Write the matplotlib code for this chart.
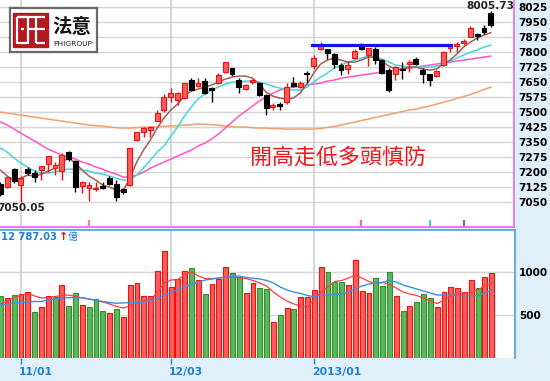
import matplotlib
matplotlib.use("Agg")
import matplotlib.pyplot as plt
from matplotlib.patches import Rectangle
import numpy as np

# ---- data ----
opens = [7140, 7125, 7215, 7135, 7218, 7198, 7212, 7240, 7222, 7205,
         7300, 7257, 7132, 7122, 7115, 7130, 7172, 7140, 7118, 7135,
         7360, 7402, 7410, 7458, 7510, 7578, 7563, 7570, 7660, 7633,
         7657, 7620, 7645, 7702, 7720, 7660, 7618, 7652, 7645, 7585,
         7527, 7540, 7552, 7645, 7628, 7697, 7730, 7818, 7815, 7793,
         7738, 7718, 7773, 7835, 7785, 7818, 7760, 7712, 7693, 7718,
         7743, 7768, 7710, 7690, 7680, 7735, 7823, 7830, 7848, 7878,
         7893, 7922, 7998]
highs = [7150, 7178, 7220, 7180, 7225, 7210, 7232, 7282, 7250, 7298,
         7305, 7262, 7155, 7152, 7150, 7150, 7180, 7160, 7122, 7322,
         7402, 7425, 7430, 7512, 7593, 7623, 7600, 7648, 7672, 7670,
         7670, 7626, 7695, 7753, 7722, 7670, 7640, 7668, 7652, 7590,
         7547, 7552, 7647, 7677, 7655, 7705, 7785, 7852, 7818, 7796,
         7748, 7755, 7818, 7845, 7822, 7825, 7765, 7720, 7730, 7752,
         7760, 7775, 7720, 7693, 7710, 7805, 7838, 7850, 7865, 7930,
         7895, 7935, 8005.73]
lows = [7080, 7122, 7145, 7050.05, 7185, 7152, 7160, 7200, 7185, 7160,
        7258, 7100, 7097, 7058, 7105, 7118, 7135, 7056, 7092, 7130,
        7358, 7377, 7375, 7455, 7502, 7552, 7535, 7565, 7610, 7627,
        7590, 7551, 7643, 7695, 7680, 7597, 7612, 7640, 7580, 7488,
        7513, 7510, 7543, 7625, 7620, 7645, 7718, 7810, 7768, 7720,
        7685, 7693, 7765, 7810, 7730, 7740, 7690, 7601, 7660, 7668,
        7702, 7735, 7645, 7630, 7678, 7733, 7800, 7800, 7835, 7875,
        7860, 7893, 7925]
closes = [7090, 7175, 7155, 7170, 7195, 7175, 7230, 7280, 7236, 7285,
          7265, 7127, 7152, 7135, 7123, 7122, 7143, 7077, 7103, 7320,
          7400, 7422, 7428, 7498, 7577, 7597, 7598, 7645, 7613, 7645,
          7597, 7612, 7688, 7752, 7692, 7627, 7637, 7660, 7587, 7520,
          7535, 7530, 7627, 7630, 7648, 7690, 7773, 7835, 7795, 7740,
          7713, 7738, 7808, 7818, 7820, 7760, 7697, 7612, 7727, 7713,
          7752, 7740, 7690, 7663, 7706, 7801, 7835, 7843, 7855, 7920,
          7880, 7903, 7936]

ma5 = [7211, 7181, 7156, 7171, 7186, 7181, 7191, 7206, 7221, 7251,
       7271, 7246, 7211, 7181, 7161, 7136, 7126, 7111, 7106, 7171,
       7251, 7311, 7361, 7421, 7471, 7511, 7541, 7581, 7606, 7616,
       7626, 7636, 7651, 7666, 7676, 7681, 7681, 7671, 7641, 7601,
       7581, 7571, 7566, 7571, 7596, 7641, 7696, 7741, 7761, 7771,
       7761, 7751, 7751, 7761, 7776, 7776, 7756, 7731, 7716, 7716,
       7726, 7726, 7716, 7711, 7716, 7741, 7761, 7791, 7826, 7851,
       7871, 7886, 7898]
ma10 = [7321, 7301, 7271, 7246, 7226, 7206, 7196, 7196, 7201, 7211,
        7216, 7216, 7211, 7206, 7196, 7191, 7181, 7171, 7161, 7161,
        7186, 7221, 7261, 7301, 7331, 7381, 7426, 7481, 7526, 7566,
        7591, 7611, 7626, 7641, 7651, 7651, 7656, 7656, 7651, 7641,
        7631, 7621, 7616, 7611, 7611, 7626, 7651, 7676, 7696, 7721,
        7736, 7751, 7761, 7771, 7781, 7776, 7766, 7751, 7736, 7731,
        7726, 7726, 7726, 7726, 7731, 7741, 7756, 7771, 7786, 7801,
        7811, 7826, 7836]
ma20 = [7451, 7436, 7416, 7396, 7376, 7356, 7336, 7316, 7301, 7286,
        7276, 7266, 7251, 7241, 7226, 7216, 7201, 7191, 7176, 7176,
        7186, 7201, 7221, 7236, 7251, 7266, 7281, 7296, 7311, 7331,
        7346, 7366, 7391, 7421, 7451, 7481, 7506, 7531, 7556, 7576,
        7596, 7611, 7621, 7626, 7631, 7636, 7641, 7646, 7656, 7661,
        7671, 7676, 7681, 7686, 7691, 7696, 7701, 7706, 7711, 7716,
        7721, 7726, 7731, 7736, 7741, 7746, 7751, 7756, 7761, 7766,
        7771, 7776, 7781]
ma60 = [7501, 7496, 7491, 7486, 7481, 7476, 7471, 7466, 7461, 7456,
        7451, 7446, 7441, 7436, 7433, 7431, 7426, 7423, 7421, 7421,
        7423, 7426, 7426, 7428, 7431, 7431, 7433, 7436, 7438, 7441,
        7441, 7438, 7436, 7431, 7428, 7426, 7426, 7423, 7421, 7421,
        7418, 7418, 7416, 7416, 7416, 7416, 7416, 7419, 7424, 7429,
        7436, 7444, 7451, 7459, 7466, 7474, 7481, 7489, 7496, 7504,
        7511, 7516, 7524, 7531, 7541, 7549, 7559, 7569, 7579, 7589,
        7601, 7614, 7626]

volume = [723, 696, 734, 746, 773, 532, 594, 726, 707, 851,
          605, 754, 617, 590, 684, 547, 520, 567, 473, 851,
          871, 726, 723, 1015, 1253, 831, 918, 1019, 1054, 910,
          746, 863, 918, 1066, 988, 949, 754, 871, 820, 801,
          415, 500, 578, 570, 714, 714, 793, 1062, 1004, 883,
          883, 851, 1144, 781, 754, 930, 843, 1004, 726, 547,
          605, 649, 750, 696, 594, 766, 824, 816, 766, 910,
          813, 949, 988]
vol_up = [0, 1, 0, 1, 1, 0, 1, 1, 0, 1,
          0, 0, 1, 0, 0, 0, 1, 0, 1, 1,
          1, 1, 1, 1, 1, 1, 1, 1, 0, 1,
          0, 1, 1, 1, 0, 0, 1, 1, 0, 0,
          1, 0, 1, 0, 1, 1, 1, 1, 0, 0,
          0, 1, 1, 1, 1, 0, 0, 0, 1, 0,
          1, 0, 0, 0, 1, 1, 1, 1, 1, 1,
          0, 1, 1]
vol_ma5 = [629, 664, 705, 734, 752, 723, 699, 705, 717, 728,
           734, 717, 699, 687, 670, 652, 629, 600, 582, 605,
           641, 664, 676, 769, 875, 910, 916, 974, 1004, 957,
           927, 927, 933, 945, 945, 933, 927, 904, 875, 840,
           769, 711, 664, 629, 605, 594, 687, 769, 828, 892,
           904, 933, 968, 933, 892, 871, 881, 857, 816, 769,
           746, 728, 699, 664, 635, 676, 723, 752, 758, 761,
           799, 840, 871]
vol_ma10 = [617, 629, 641, 646, 652, 658, 658, 676, 687, 699,
            703, 703, 703, 687, 670, 658, 646, 637, 641, 646,
            649, 652, 670, 693, 734, 763, 799, 828, 857, 886,
            910, 922, 933, 939, 951, 957, 939, 930, 922, 904,
            875, 828, 793, 769, 752, 728, 714, 728, 734, 740,
            746, 769, 810, 840, 863, 875, 883, 904, 886, 851,
            828, 804, 781, 758, 734, 734, 732, 728, 726, 726,
            726, 758, 793]

date_pos = [3, 25, 46]
date_labels = ["11/01", "12/03", "2013/01"]
price_ticks = list(range(7050, 8026, 75))
vol_ticks = [500, 1000]
resist_level = 7837
resist_span = (45.8, 66.2)
signal_bars = [13, 53, 63, 68]
signal_colors = ["#f08a70", "#ff5fd0", "#45c8e0", "#a06464"]
headline = "開高走低多頭慎防"
vol_text = "12 787.03"

# ---- figure ----
W, H = 550, 381
fig = plt.figure(figsize=(W / 100, H / 100), dpi=100, facecolor="#e0f0fb")

n = len(closes)
x = np.arange(n)
step = 6.81
xlim = (-0.5 / step, (514 - 0.5) / step)

RED_F, RED_E = "#ff5c5c", "#f01010"
BLUE_T = "#1f7fd0"

ax = fig.add_axes([0, (H - 227) / H, 514 / W, 227 / H], facecolor="white")
ax.set_xlim(*xlim)
ax.set_ylim(8025 - (227 - 7.3) * 5, 8025 + 7.3 * 5)

for p in price_ticks:
    ax.axhline(p, color="#d6d6d6", lw=1, zorder=0)
for d in date_pos:
    ax.axvline(d, color="#cfcfcf", lw=1.2, zorder=0)

ax.plot(x, ma60, color="#f2a070", lw=1.1, zorder=2)
ax.plot(x, ma20, color="#ff55c8", lw=1.1, zorder=2)
ax.plot(x, ma10, color="#45d5e5", lw=1.1, zorder=2)
ax.plot(x, ma5, color="#a0605a", lw=1.1, zorder=2)

for i in range(n):
    o, h, l, c = opens[i], highs[i], lows[i], closes[i]
    up = c >= o
    col = RED_E if up else "black"
    ax.vlines(i, l, h, color=col, lw=1, zorder=3)
    bot = min(o, c)
    hgt = max(abs(c - o), 3)
    ax.bar(i, hgt, bottom=bot, width=0.72,
           color=RED_F if up else "black", edgecolor=col, lw=0.8, zorder=4)

ax.plot(resist_span, [resist_level, resist_level], color="#1414e6", lw=2.3, zorder=5)

for b, cc in zip(signal_bars, signal_colors):
    ax.plot([b, b], [6935, 6958], color=cc, lw=1.6, zorder=5)

ax.annotate(f"{highs[-1]:.2f}", (n - 1, max(highs)), xytext=(0, 3.5),
            textcoords="offset points", ha="center", va="center",
            fontsize=7.6, fontweight="bold", color="#222222", zorder=6)
imin = int(np.argmin(lows))
ax.annotate(f"{lows[imin]:.2f}", (imin, lows[imin]), xytext=(0, -4.3),
            textcoords="offset points", ha="center", va="center",
            fontsize=7.6, fontweight="bold", color="#222222", zorder=6)

ax.text(338 / 514, (227 - 158) / 227, headline, transform=ax.transAxes,
        ha="center", va="center", fontsize=15.8, color="#f01818",
        family=["Noto Sans CJK TC", "DejaVu Sans"], zorder=6)

ax.set_yticks(price_ticks)
ax.yaxis.tick_right()
ax.tick_params(axis="y", length=0, pad=3, labelsize=7.6)
for t in ax.get_yticklabels():
    t.set_fontweight("bold")
ax.set_xticks([])
for s in ["left", "top"]:
    ax.spines[s].set_visible(False)
for s in ["right", "bottom"]:
    ax.spines[s].set_color("#f070f0")
    ax.spines[s].set_linewidth(1.3)

# ---- volume panel ----
av = fig.add_axes([0, (H - 357.7) / H, 515 / W, (357.7 - 230) / H], facecolor="white")
av.set_xlim(*xlim)
av.set_ylim(0, (357.7 - 230) * 11.71)
for v in vol_ticks:
    av.axhline(v, color="#d6d6d6", lw=1, zorder=0)
for d in date_pos:
    av.axvline(d, color="#cfcfcf", lw=1.2, zorder=0)

vc = [RED_F if u else "#5cb85c" for u in vol_up]
ve = [RED_E if u else "#2f8f2f" for u in vol_up]
av.bar(x, volume, width=0.72, color=vc, edgecolor=ve, lw=0.8, zorder=2)
av.plot(x, vol_ma5, color="#ff3c3c", lw=0.9, zorder=3)
av.plot(x, vol_ma10, color="#3c8fe0", lw=1.0, zorder=3)

av.set_yticks(vol_ticks)
av.yaxis.tick_right()
av.tick_params(axis="y", length=0, pad=3, labelsize=7.6)
for t in av.get_yticklabels():
    t.set_fontweight("bold")
av.set_xticks(date_pos)
av.set_xticklabels([])
av.tick_params(axis="x", length=4, color=BLUE_T, width=1)
for d, lab in zip(date_pos, date_labels):
    av.annotate(lab, (d, 0), xycoords=("data", "axes fraction"),
                xytext=(-1.5, -10.3), textcoords="offset points",
                ha="left", va="center", fontsize=7.8, fontweight="bold", color=BLUE_T)
for s in ["left", "bottom"]:
    av.spines[s].set_visible(False)
for s in ["right", "top"]:
    av.spines[s].set_color("#5aa6dc")
    av.spines[s].set_linewidth(1.3)

av.text(1 / 515, 1 - 6.7 / 127.7, vol_text, transform=av.transAxes, ha="left", va="center",
        fontsize=7.2, fontweight="bold", color=BLUE_T)
av.text(63.5 / 515, 1 - 6.7 / 127.7, "↑", transform=av.transAxes, ha="center", va="center",
        fontsize=8, fontweight="bold", color="#ee1111")
av.text(68 / 515, 1 - 6.7 / 127.7, "億", transform=av.transAxes, ha="left", va="center",
        fontsize=7.2, color=BLUE_T, family=["Noto Sans CJK TC", "DejaVu Sans"])

# ---- logo ----
lg = fig.add_axes([10 / W, (H - 52) / H, 87 / W, 44 / H], facecolor="white")
lg.set_xlim(0, 87)
lg.set_ylim(44, 0)
lg.set_xticks([])
lg.set_yticks([])
for s in lg.spines.values():
    s.set_color("#6a6a6a")
    s.set_linewidth(1.6)
lg.add_patch(Rectangle((3.3, 5.3), 35, 33.4, color="#b3191e"))
wl = dict(color="white", lw=1.6, solid_capstyle="butt")
lg.plot([7, 7, 18, 18, 7], [9, 35, 35, 9, 9], **wl)
lg.plot([7, 35], [9, 9], **wl)
lg.plot([18, 35], [21, 21], **wl)
lg.plot([26, 26], [9, 35], **wl)
lg.plot([26, 35], [35, 35], **wl)
lg.plot([11, 14], [21, 21], **wl)
lg.text(62, 19.5, "法意", ha="center", va="center", fontsize=14, fontweight="bold",
        color="#111111", family=["Noto Sans CJK TC", "DejaVu Sans"])
lg.text(62.5, 36.5, "PHIGROUP", ha="center", va="center", fontsize=5.4, color="#222222")

fig.savefig("out.png", dpi=100, facecolor=fig.get_facecolor())
